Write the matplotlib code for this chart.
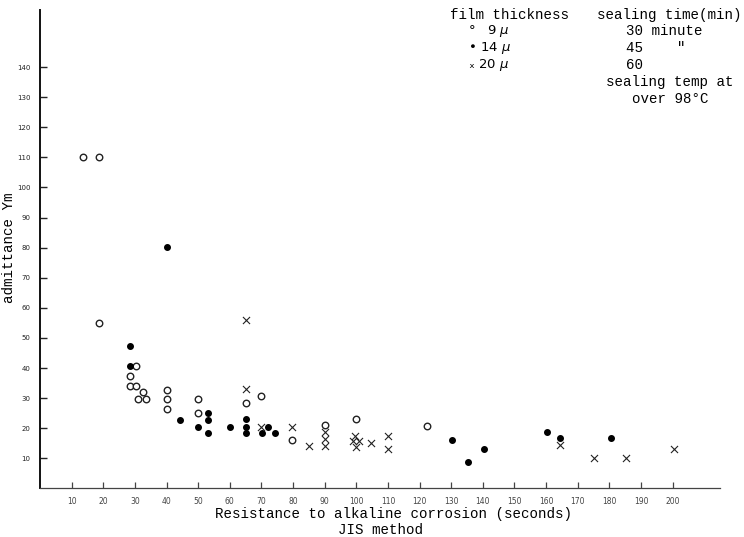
import numpy as np
import matplotlib
matplotlib.use("Agg")
import matplotlib.pyplot as plt

# film thickness 9 um (open circles)
x_9 = [13.7, 18.7, 18.7, 30.5, 28.4, 28.4, 30.5, 32.4, 31.0, 33.5,
       40.0, 40.0, 40.0, 49.8, 50.0, 65.1, 70.0, 79.8, 90.0, 100.0, 122.5]
y_9 = [110.1, 110.1, 55.0, 40.6, 37.4, 34.1, 34.1, 31.9, 29.6, 29.6,
       32.7, 29.6, 26.3, 29.6, 24.9, 28.4, 30.8, 16.1, 21.0, 22.9, 20.6]

# film thickness 14 um (filled dots)
x_14 = [28.6, 28.6, 40.0, 44.2, 49.8, 53.0, 53.0, 53.0, 60.2, 65.1, 65.1,
        65.1, 72.1, 70.2, 74.2, 130.2, 135.3, 140.3, 160.4, 164.3, 180.4]
y_14 = [47.3, 40.6, 80.2, 22.8, 20.5, 24.9, 22.8, 18.3, 20.5, 22.9, 20.5,
        18.3, 20.5, 18.3, 18.3, 16.1, 8.7, 13.1, 18.7, 16.8, 16.8]

# film thickness 20 um (crosses)
x_20 = [65.1, 65.1, 70.0, 79.8, 85.0, 90.0, 90.0, 90.0, 99.5, 98.8, 100.9,
        100.0, 104.8, 110.1, 110.1, 164.3, 175.3, 185.3, 200.3]
y_20 = [55.9, 32.9, 20.5, 20.5, 14.1, 18.6, 16.4, 14.2, 17.4, 15.7, 15.7,
        13.8, 15.0, 17.4, 13.0, 14.4, 10.2, 10.2, 13.1]

xticks = list(range(10, 201, 10))
yticks = list(range(10, 141, 10))

mono = "Liberation Mono"
fs = 10.2

fig = plt.figure(figsize=(7.44, 5.37), dpi=100)
ax = fig.add_axes([0.0538, 0.0905, 0.914, 0.891])

ax.scatter(x_9, y_9, s=22, facecolors="white", edgecolors="#222222", linewidths=1.0, zorder=3)
ax.scatter(x_14, y_14, s=16, color="black", zorder=3)
ax.scatter(x_20, y_20, s=26, marker="x", color="#222222", linewidths=0.8, zorder=3)

ax.set_xlim(0, 215)
ax.set_ylim(0, 159)

for s in ["top", "right"]:
    ax.spines[s].set_visible(False)
ax.spines["left"].set_linewidth(1.4)
ax.spines["left"].set_color("#111111")
ax.spines["bottom"].set_linewidth(0.9)
ax.spines["bottom"].set_color("#444444")

ax.set_xticks(xticks)
ax.set_xticklabels([str(t) for t in xticks])
ax.set_yticks(yticks)
ax.set_yticklabels([str(t) for t in yticks])
ax.tick_params(axis="x", direction="in", length=4, width=0.9, colors="#444444",
               labelsize=5.5, pad=6)
ax.tick_params(axis="y", direction="in", length=5, width=1.0, colors="#222222",
               labelsize=5, pad=7)

# axis titles placed as figure text so nothing is clipped
fig.text(0.529, 0.043, "Resistance to alkaline corrosion (seconds)",
         family=mono, fontsize=fs, ha="center", va="center")
fig.text(0.512, 0.013, "JIS method", family=mono, fontsize=fs, ha="center", va="center")
fig.text(0.0125, 0.538, "admittance Ym", family=mono, fontsize=fs, rotation=90,
         ha="center", va="center")

# legend block, typed as text
tx = fig.text
tx(0.605, 0.972, "film thickness", family=mono, fontsize=fs, va="center")
tx(0.629, 0.942, "°   9 $\\mu$", fontsize=9.5, va="center")
tx(0.629, 0.911, "• 14 $\\mu$", fontsize=9.5, va="center")
tx(0.629, 0.879, "ₓ 20 $\\mu$", fontsize=9.5, va="center")
tx(0.803, 0.972, "sealing time(min)", family=mono, fontsize=fs, va="center")
tx(0.842, 0.942, "30 minute", family=mono, fontsize=fs, va="center")
tx(0.842, 0.911, "45    \"", family=mono, fontsize=fs, va="center")
tx(0.842, 0.879, "60", family=mono, fontsize=fs, va="center")
tx(0.815, 0.847, "sealing temp at", family=mono, fontsize=fs, va="center")
tx(0.849, 0.815, "over 98°C", family=mono, fontsize=fs, va="center")

fig.savefig("out.png", dpi=100)
